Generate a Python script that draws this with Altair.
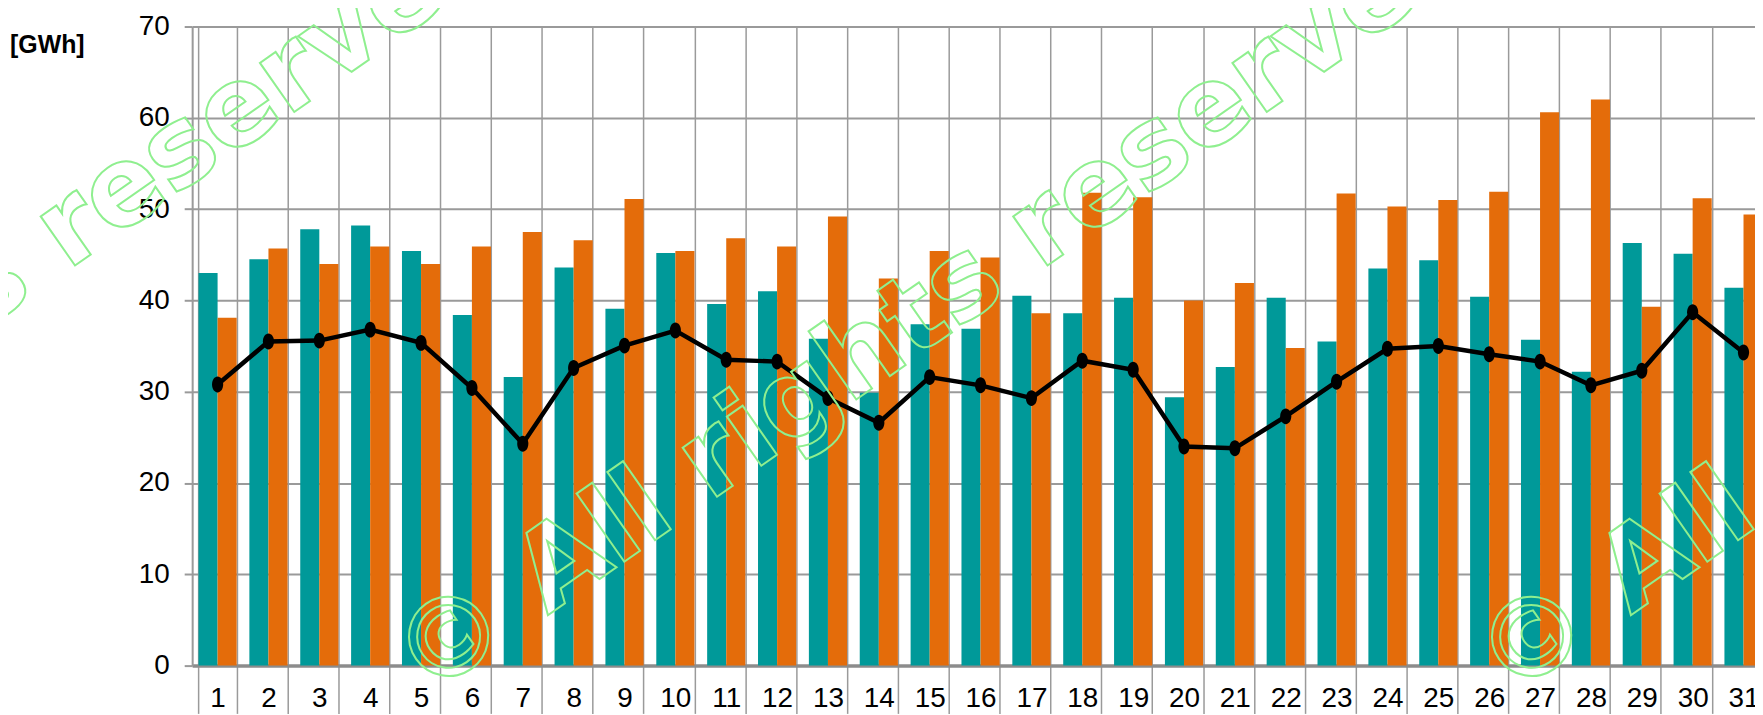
import altair as alt
import pandas as pd

days = list(range(1, 32))
teal_values = [43.0, 44.5, 47.8, 48.2, 45.4, 38.4, 31.6, 43.6, 39.1, 45.2, 39.6, 41.0, 35.8, 29.9, 37.4, 36.9,
               40.5, 38.6, 40.3, 29.4, 32.7, 40.3, 35.5, 43.5, 44.4, 40.4, 35.7, 32.2, 46.3, 45.1, 41.4]
orange_values = [38.1, 45.7, 44.0, 45.9, 44.0, 45.9, 47.5, 46.6, 51.1, 45.4, 46.8, 45.9, 49.2, 42.4, 45.4, 44.7,
                 38.6, 51.8, 51.3, 40.0, 41.9, 34.8, 51.7, 50.3, 51.0, 51.9, 60.6, 62.0, 39.3, 51.2, 49.4]
line_values = [30.8, 35.5, 35.6, 36.8, 35.35, 30.4, 24.3, 32.6, 35.05, 36.7, 33.5, 33.3, 29.3, 26.6, 31.6, 30.7,
               29.3, 33.4, 32.4, 24.0, 23.8, 27.3, 31.1, 34.7, 35.0, 34.1, 33.3, 30.7, 32.3, 38.7, 34.3]
series_names = ["Series 1", "Series 2"]
series_colors = ["#009999", "#E46C0A"]
y_ticks = [0, 10, 20, 30, 40, 50, 60, 70]
unit_label = "[GWh]"
WATERMARK = "© All rights reserved"

bars_df = pd.DataFrame({
    "day": days * 2,
    "series": [series_names[0]] * 31 + [series_names[1]] * 31,
    "value": teal_values + orange_values,
})
line_df = pd.DataFrame({"day": days, "value": line_values})

FONT = "Liberation Sans Narrow, Arial Narrow, Liberation Sans, sans-serif"
GRID = "#9a9a9a"

x_scale = alt.Scale(range=[0, 1584], paddingInner=0.25, paddingOuter=0.125)
y_scale = alt.Scale(domain=[0, 70], nice=False)

x_axis = alt.Axis(
    title=None, labelAngle=0, tickBand="extent", grid=True, gridColor=GRID, gridWidth=1.5,
    ticks=True, tickSize=48, tickColor=GRID, tickWidth=1.5,
    domainColor="#8c8c8c", domainWidth=3.5,
    labelFont=FONT, labelFontSize=28, labelColor="black", labelPadding=-29,
    labelOverlap=False, labelBound=False, labelFlush=False,
)
y_axis = alt.Axis(
    values=y_ticks, title=unit_label, titleAngle=0, titleX=-146, titleY=18,
    titleAlign="center", titleBaseline="middle", titleFont=FONT, titleFontSize=25,
    titleFontWeight="bold", titleColor="black",
    grid=True, gridColor=GRID, gridWidth=2, tickSize=8, tickColor=GRID, tickWidth=2,
    domainColor=GRID, domainWidth=2,
    labelFont=FONT, labelFontSize=28, labelColor="black", labelPadding=15,
    labelFlush=False, labelBound=False,
)

bars = alt.Chart(bars_df).mark_bar().encode(
    x=alt.X("day:O", scale=x_scale, axis=x_axis),
    xOffset=alt.XOffset("series:N", scale=alt.Scale(paddingInner=0, paddingOuter=0), sort=series_names),
    y=alt.Y("value:Q", scale=y_scale, axis=y_axis),
    color=alt.Color("series:N", scale=alt.Scale(domain=series_names, range=series_colors), legend=None),
)

line = alt.Chart(line_df).mark_line(color="black", strokeWidth=4.5).encode(
    x=alt.X("day:O", scale=x_scale),
    y=alt.Y("value:Q", scale=y_scale),
)
ELLIPSE = "M-0.7,0A0.7,1,0,1,0,0.7,0A0.7,1,0,1,0,-0.7,0Z"
points = alt.Chart(line_df).mark_point(shape=ELLIPSE, filled=True, color="black", size=256, opacity=1).encode(
    x=alt.X("day:O", scale=x_scale),
    y=alt.Y("value:Q", scale=y_scale),
)

wm_df = pd.DataFrame({"t": [WATERMARK]})
wm_layers = []
for xpos in [-741.6, 235.4, 1323.4]:
    wm_layers.append(
        alt.Chart(wm_df).mark_text(
            font="DejaVu Sans", fontWeight="bold", fontSize=110, angle=325,
            align="left", baseline="alphabetic", fillOpacity=0,
            stroke="#8FEF8F", strokeWidth=2, strokeOpacity=1,
        ).encode(text="t:N", x=alt.value(xpos), y=alt.value(676.8))
    )

chart = alt.layer(bars, line, points, *wm_layers).properties(
    width=1570, height=642,
    autosize=alt.AutoSizeParams(type="none"),
    padding={"left": 185, "top": 17, "right": 0, "bottom": 48},
).configure_view(stroke=None).configure(background="white")

chart.save("out.html", embed_options={"renderer": "svg", "actions": False})
